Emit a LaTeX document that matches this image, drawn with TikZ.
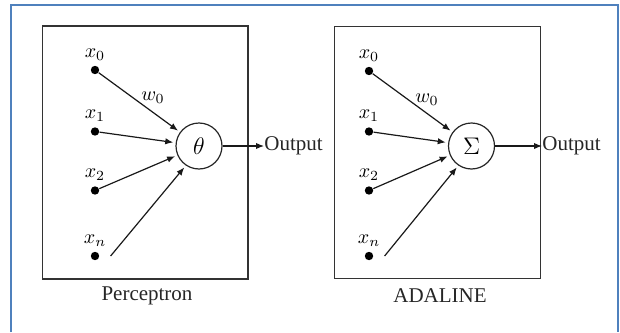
\documentclass[tikz,border=0pt]{standalone}
\usepackage{fontspec}
\setmainfont{Liberation Serif}
\usetikzlibrary{arrows.meta, positioning}
\definecolor{frameblue}{RGB}{79,129,189}

\begin{document}
\begin{tikzpicture}[x=0.5pt, y=-0.5pt,
        panel/.style={rectangle, draw=black!80, line width=0.7pt,
                      inner sep=0pt},
        dot/.style={circle, fill=black, inner sep=0pt, minimum size=4.2pt},
        unit/.style={circle, draw=black!85, line width=0.6pt, inner sep=0pt,
                     minimum size=23pt, font=\large},
        lab/.style={font=\fontsize{10}{12}\selectfont, inner sep=1pt},
        arr/.style={-{Latex[length=4pt,width=3.2pt]}, line width=0.6pt,
                    black!90, shorten >=1.2pt},
        caption/.style={font=\fontsize{10.5}{12}\selectfont, text=black!85}]
      \useasboundingbox (0,0) rectangle (620,332);
      % outer frame, open at the bottom
      \draw[frameblue, line width=0.8pt] (11,332) |- (618,5) -- (618,332);

      % Perceptron
      \node[panel, minimum width=102.75pt, minimum height=126.5pt] (pbox) at (145.25,152.5) {};
      \node[unit] (theta) at (199,146) {$\theta$};
      \foreach \i/\y/\t in {0/70/0, 1/131.5/1, 2/190.5/2, n/256/n} {
        \node[dot] (px\i) at (95,\y) {};
        \node[lab, above=1.5pt of px\i] (pl\i) {$x_{\t}$};
      }
      \coordinate[right=5.5pt of pxn] (pxs);
      \draw[arr] (px0) -- (theta);
      \draw[arr] (px1) -- (theta);
      \draw[arr] (px2) -- (theta);
      \draw[arr] (pxs) -- (theta.236);
      \node[lab] (pw) at (153,98) {$w_0$};
      \node[caption, anchor=west, inner sep=0pt] (pout) at (264,146) {Output};
      \draw[arr, shorten >=0pt] (theta) -- (pout);
      \node[caption] (pname) at (147,296) {Perceptron};

      % ADALINE
      \node[panel, minimum width=102.75pt, minimum height=126pt] (abox) at (437.5,152.5) {};
      \node[unit] (sigma) at (471.5,146) {$\Sigma$};
      \foreach \i/\y/\t in {0/71/0, 1/131.5/1, 2/190.5/2, n/256/n} {
        \node[dot] (ax\i) at (369,\y) {};
        \node[lab, above=1.5pt of ax\i] (al\i) {$x_{\t}$};
      }
      \coordinate[right=5.5pt of axn] (axs);
      \draw[arr] (ax0) -- (sigma);
      \draw[arr] (ax1) -- (sigma);
      \draw[arr] (ax2) -- (sigma);
      \draw[arr] (axs) -- (sigma.236);
      \node[lab] (aw) at (427,100) {$w_0$};
      \node[caption, anchor=west, inner sep=0pt] (aout) at (542,146) {Output};
      \draw[arr, shorten >=0pt] (sigma) -- (aout);
      \node[caption] (aname) at (440,296) {ADALINE};
    \end{tikzpicture}
\end{document}
